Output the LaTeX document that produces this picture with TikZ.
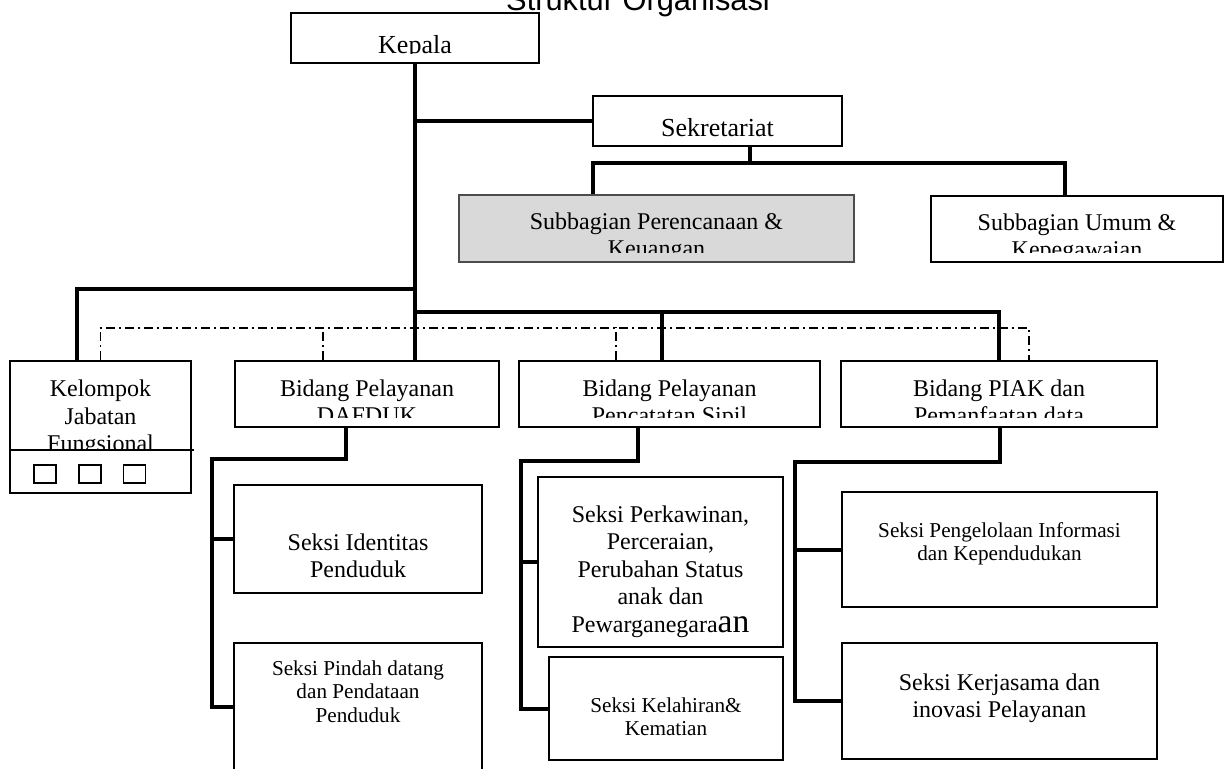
\documentclass[tikz,border=0pt]{standalone}
\usepackage{fontspec}
\setmainfont{Liberation Serif}
\newfontfamily\judulfont{Liberation Sans}
\usepackage{tikz}
\definecolor{abuabu}{HTML}{D9D9D9}

\begin{document}
\begin{tikzpicture}[x=0.5pt,y=-0.5pt,
  kotak/.style={draw, line width=0.9pt, inner sep=0pt},
  garis/.style={line width=2pt},
  putus/.style={line width=0.6pt, dash pattern=on 4.5pt off 2pt on 1pt off 2pt},
  teks/.style={inner sep=0pt, anchor=north, align=center, font=\fontsize{12}{13.75}\selectfont},
  tekskecil/.style={teks, font=\fontsize{10.6}{11.75}\selectfont},
  teksbesar/.style={teks, font=\fontsize{13}{15}\selectfont}]
\useasboundingbox (0,0) rectangle (1225,769);

% Judul
\node[anchor=base, inner sep=0pt, font=\judulfont\fontsize{15.4}{18}\selectfont] (judul) at (638,11) {Struktur Organisasi};

% Kepala dan sekretariat
\node[kotak, minimum width=124pt, minimum height=25pt] (kepala) at (415,38) {};
\begin{scope}
  \clip (kepala.north west) rectangle ([yshift=5pt]kepala.south east);
  \node[teksbesar] (kepala-t) at (415,35) {Kepala};
\end{scope}
\node[kotak, minimum width=124.5pt, minimum height=25pt] (sekre) at (717.5,121) {};
\node[teksbesar] (sekre-t) at (717.5,118) {Sekretariat};

% Subbagian
\node[kotak, draw=black!70, fill=abuabu, minimum width=197.5pt, minimum height=33.5pt] (subren) at (656.5,228.5) {};
\node[kotak, minimum width=146pt, minimum height=33pt] (subum) at (1077,229) {};
\begin{scope}
  \clip (subren.north west) rectangle ([yshift=5pt]subren.south east);
  \node[teks] (subren-t) at (656.5,212) {Subbagian Perencanaan \&\\Keuangan};
\end{scope}
\begin{scope}
  \clip (subum.north west) rectangle ([yshift=5pt]subum.south east);
  \node[teks] (subum-t) at (1077,213) {Subbagian Umum \&\\Kepegawaian};
\end{scope}

% Kelompok jabatan fungsional
\node[kotak, minimum width=90.5pt, minimum height=66pt] (kelompok) at (100.5,427) {};
\begin{scope}
  \clip (kelompok.north west) rectangle ([yshift=22pt]kelompok.south east);
  \node[teks] (kelompok-t) at (100.5,379.5) {Kelompok\\Jabatan\\Fungsional};
\end{scope}
\draw[line width=0.9pt] ([yshift=22pt]kelompok.south west) -- ([xshift=1pt,yshift=22pt]kelompok.south east);
\foreach \i/\px in {1/45,2/90,3/134.5}
  \node[kotak, line width=0.8pt, minimum width=11pt, minimum height=9pt] (fungsi-\i) at (\px,474) {};

% Bidang
\foreach \nama/\px/\lebar/\isi in {dafduk/367/132/{Bidang Pelayanan\\DAFDUK},
    pencatatan/669.5/150.5/{Bidang Pelayanan\\Pencatatan Sipil},
    piak/999/158/{Bidang PIAK dan\\Pemanfaatan data}}{
  \node[kotak, minimum width=\lebar pt, minimum height=33pt] (\nama) at (\px,394) {};
  \begin{scope}
    \clip (\nama.north west) rectangle ([yshift=5pt]\nama.south east);
    \node[teks] (\nama-t) at (\px,379) {\isi};
  \end{scope}
}

% Seksi
\node[kotak, minimum width=124pt, minimum height=54pt] (identitas) at (358,539) {};
\node[teks] (identitas-t) at (358,533) {Seksi Identitas\\Penduduk};
\node[kotak, minimum width=124pt, minimum height=73.5pt] (pindah) at (358,716.5) {};
\node[tekskecil] (pindah-t) at (358,660) {Seksi Pindah datang\\dan Pendataan\\Penduduk};
\node[kotak, minimum width=122.5pt, minimum height=85pt] (perkawinan) at (660.5,562) {};
\node[teks] (perkawinan-t) at (660.5,505) {Seksi Perkawinan,\\Perceraian,\\Perubahan Status\\anak dan\\Pewarganegara{\fontsize{16.8}{16.8}\selectfont an}};
\node[kotak, minimum width=117pt, minimum height=51.5pt] (kelahiran) at (666,708.5) {};
\node[tekskecil] (kelahiran-t) at (666,697) {Seksi Kelahiran\&\\Kematian};
\node[kotak, minimum width=157.5pt, minimum height=57.5pt] (pengelolaan) at (999.5,549.5) {};
\node[tekskecil] (pengelolaan-t) at (999.5,522) {Seksi Pengelolaan Informasi\\dan Kependudukan};
\node[kotak, minimum width=157.5pt, minimum height=58pt] (kerjasama) at (999.5,701) {};
\node[teks] (kerjasama-t) at (999.5,673) {Seksi Kerjasama dan\\inovasi Pelayanan};

% Garis komando
\draw[garis] (kepala.south) -- (kepala.south |- dafduk.north);
\draw[garis] (kepala.south |- sekre.west) -- (sekre.west);
\coordinate (cabangsek) at (750,163);
\draw[garis] (sekre.south -| cabangsek) -- (cabangsek);
\draw[garis] ([xshift=-32pt]subren.north) |- (cabangsek) -| ([xshift=-6pt]subum.north);
\coordinate (cabangkiri) at (77,289);
\draw[garis] (kepala.south |- cabangkiri) -| (kelompok.north -| cabangkiri);
\coordinate (bus) at (0,312);
\draw[garis] (kepala.south |- bus) -| (piak.north);
\coordinate (tcatat) at ([xshift=-4pt]pencatatan.north);
\draw[garis] (tcatat |- bus) -- (tcatat);

% Garis koordinasi
\coordinate (putuskanan) at ([xshift=15pt]piak.north);
\coordinate (jalurputus) at (0,328);
\draw[putus] (kelompok.north) |- (putuskanan |- jalurputus) -- (putuskanan);
\foreach \nama/\geser in {dafduk/-22pt, pencatatan/-26.75pt}
  \draw[putus] ([xshift=\geser]\nama.north) -- ++(0,-33);

% Garis ke seksi
\coordinate (jalurA) at (212,459);
\draw[garis] ([xshift=-10.5pt]dafduk.south) |- (jalurA) |- ([yshift=4.75pt]pindah.west);
\draw[garis] (jalurA |- identitas.west) -- (identitas.west);
\coordinate (jalurB) at (521,461);
\draw[garis] ([xshift=-16pt]pencatatan.south) |- (jalurB) |- (kelahiran.west);
\draw[garis] (jalurB |- perkawinan.west) -- (perkawinan.west);
\coordinate (jalurC) at (795,462);
\draw[garis] ([xshift=0.5pt]piak.south) |- (jalurC) |- (kerjasama.west);
\draw[garis] (jalurC |- pengelolaan.west) -- (pengelolaan.west);
\end{tikzpicture}
\end{document}
